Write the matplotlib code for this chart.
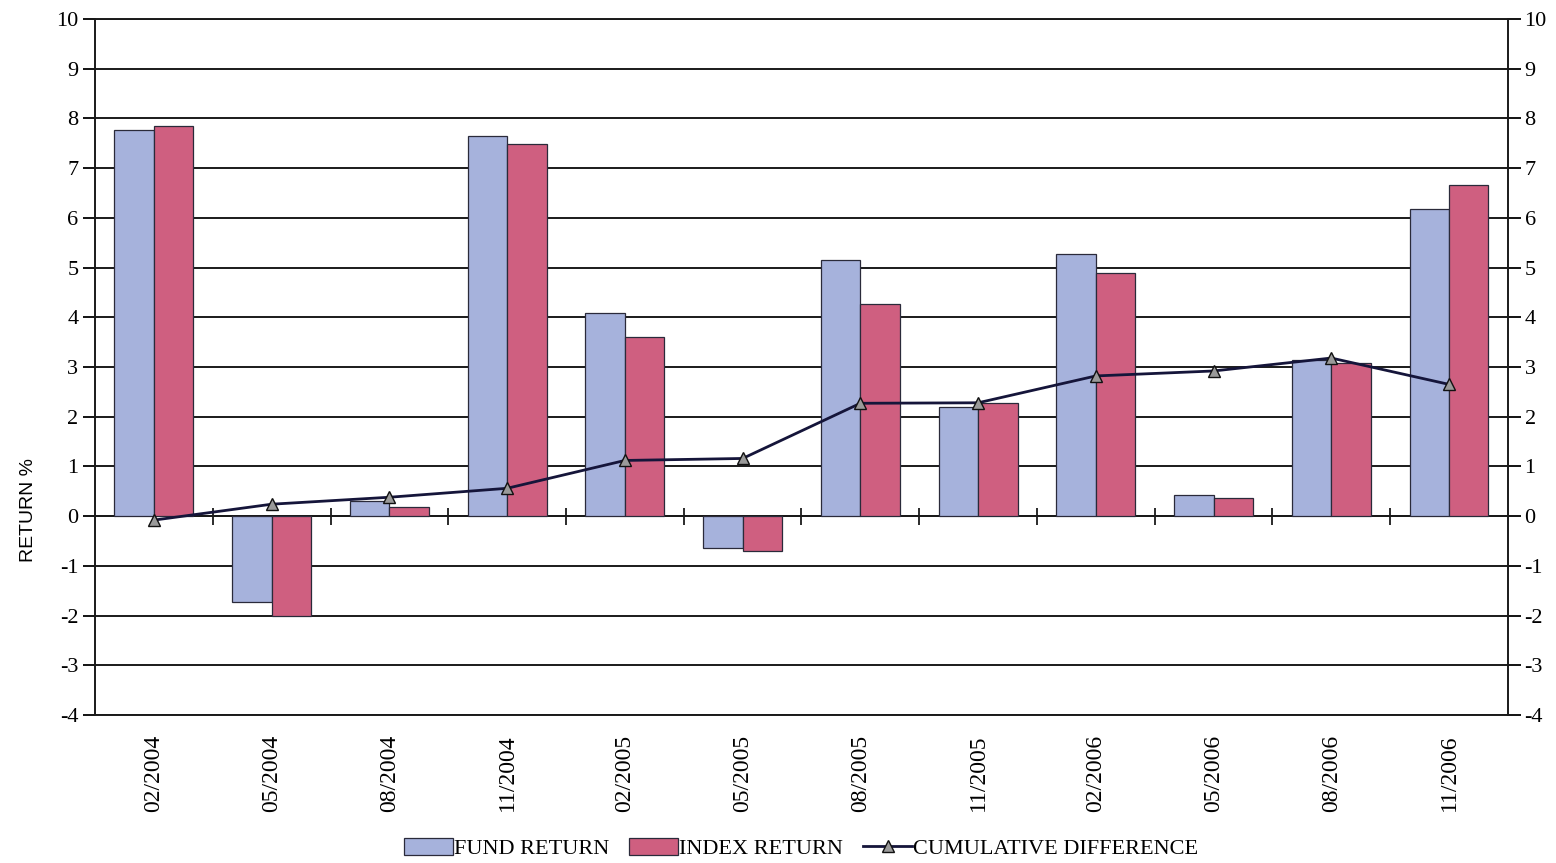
import matplotlib
matplotlib.use("Agg")
import matplotlib.pyplot as plt
import numpy as np

# Quarterly returns (%)
periods = ["02/2004", "05/2004", "08/2004", "11/2004", "02/2005", "05/2005",
           "08/2005", "11/2005", "02/2006", "05/2006", "08/2006", "11/2006"]
fund_return = [7.77, -1.73, 0.30, 7.65, 4.08, -0.64, 5.15, 2.19, 5.27, 0.42, 3.14, 6.17]
index_return = [7.85, -2.00, 0.18, 7.48, 3.60, -0.70, 4.27, 2.27, 4.90, 0.36, 3.08, 6.66]
cumulative_difference = [-0.08, 0.24, 0.38, 0.56, 1.12, 1.16, 2.27, 2.28, 2.82, 2.92, 3.18, 2.65]
y_ticks = list(range(-4, 11))

serif = ["Liberation Serif", "DejaVu Serif"]
plt.rcParams["font.family"] = serif

fig = plt.figure(figsize=(15.56, 8.63), dpi=100)
ax = fig.add_axes([0.0611, 0.1715, 0.9080, 0.8065])

x = np.arange(len(periods))
w = 0.335
blue = "#a6b2dc"
pink = "#cf5f80"

b1 = ax.bar(x - w / 2, fund_return, width=w, color=blue, edgecolor="#2a2a3a",
            linewidth=0.9, zorder=2, label="FUND RETURN")
b2 = ax.bar(x + w / 2, index_return, width=w, color=pink, edgecolor="#2a2a3a",
            linewidth=0.9, zorder=2, label="INDEX RETURN")
ln, = ax.plot(x, cumulative_difference, color="#15153a", linewidth=2.0, marker="^",
              markersize=8, markerfacecolor="#9a9a9a", markeredgecolor="#111111",
              zorder=3, label="CUMULATIVE DIFFERENCE")

ax.set_xlim(-0.5, len(periods) - 0.5)
ax.set_ylim(min(y_ticks), max(y_ticks))
ax.set_yticks(y_ticks)
ax.set_yticklabels([str(v) for v in y_ticks])
ax.yaxis.grid(True, color="#1a1a1a", linewidth=1.4, zorder=0)
ax.set_axisbelow(True)

# category axis crosses at zero, with marks between the categories
ax.axhline(0, color="#1a1a1a", linewidth=1.4, zorder=1)
ax.vlines(x[:-1] + 0.5, -0.17, 0.17, color="#1a1a1a", linewidth=1.3, zorder=1)

ax.set_xticks(x)
ax.set_xticklabels(periods, rotation=90, fontsize=17)
ax.tick_params(axis="x", length=0, pad=14)
ax.tick_params(axis="y", direction="out", length=9, width=1.3, pad=3,
               left=True, right=True, labelleft=True, labelright=True,
               labelsize=16)
for s in ax.spines.values():
    s.set_color("#1a1a1a")
    s.set_linewidth(1.4)

ax.set_ylabel("RETURN %", fontsize=14, family=["Liberation Sans", "DejaVu Sans"])
ax.yaxis.set_label_coords(-0.041, 0.295)

fig.legend([b1, b2, ln], [b1.get_label(), b2.get_label(), ln.get_label()],
           loc="center", bbox_to_anchor=(0.515, 0.017),
           ncol=3, frameon=False, fontsize=16, handlelength=2.2,
           handleheight=0.8, handletextpad=0.05, columnspacing=0.9)

fig.savefig("out.png", dpi=100)
